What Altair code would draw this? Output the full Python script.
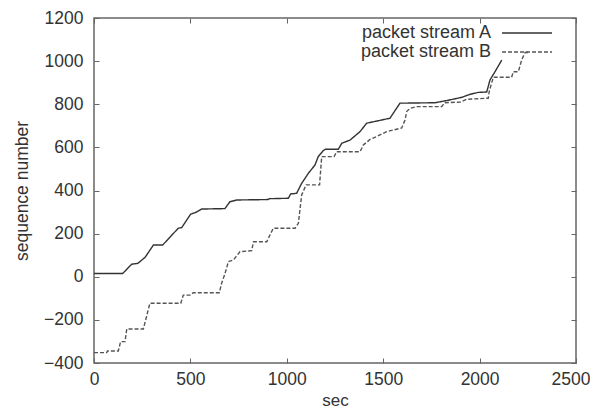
import altair as alt
import pandas as pd

series_names = ["packet stream A", "packet stream B"]

a_sec = [0, 149, 195, 227, 265, 308, 356, 437, 455, 501, 529, 558, 679, 705, 740, 903, 910,
         1008, 1020, 1051, 1077, 1112, 1146, 1163, 1189, 1200, 1267, 1285, 1328, 1380, 1414,
         1466, 1535, 1587, 1769, 1829, 1907, 1950, 1993, 2037, 2054, 2080, 2115]
a_seq = [15, 15, 58, 62, 90, 147, 147, 225, 228, 290, 299, 314, 316, 348, 356, 358, 362,
         364, 384, 387, 433, 480, 518, 557, 585, 591, 591, 619, 634, 673, 712,
         722, 735, 805, 807, 817, 832, 846, 855, 857, 913, 951, 1005]

b_sec = [0, 66, 70, 126, 138, 161, 170, 256, 277, 290, 450, 463, 498, 515, 650, 662, 680,
         697, 723, 757, 818, 827, 896, 913, 930, 1043, 1060, 1077, 1100, 1170, 1181, 1245,
         1259, 1380, 1397, 1432, 1466, 1518, 1587, 1596, 1613, 1622, 1639, 1674, 1803, 1820,
         1900, 1933, 2045, 2050, 2071, 2166, 2175, 2201, 2218, 2236, 2260]
b_seq = [-352, -352, -344, -344, -301, -301, -242, -242, -169, -123, -123, -85, -85, -74, -74, -30, 16,
         70, 78, 116, 121, 162, 162, 194, 225, 225, 248, 379, 426, 426, 557, 557,
         580, 580, 611, 637, 650, 673, 688, 690, 727, 766, 781, 789, 789, 807,
         810, 823, 828, 860, 925, 925, 951, 951, 1005, 1040, 1040]

x_ticks = [0, 500, 1000, 1500, 2000, 2500]
y_ticks = [-400, -200, 0, 200, 400, 600, 800, 1000, 1200]

rows = []
for i, (s, v) in enumerate(zip(a_sec, a_seq)):
    rows.append({"series": series_names[0], "sec": s, "seq": v, "order": i})
for i, (s, v) in enumerate(zip(b_sec, b_seq)):
    rows.append({"series": series_names[1], "sec": s, "seq": v, "order": i})
df = pd.DataFrame(rows)

FONT = "Liberation Sans"
TXT = "#333333"
AX = "#666666"
FS = 17.5

x_scale = alt.Scale(domain=[0, 2500], nice=False, zero=False)
y_scale = alt.Scale(domain=[-400, 1200], nice=False, zero=False)

legend = alt.Legend(
    title=None, orient="none", legendX=424, legendY=6,
    symbolType="M-5,0H5", symbolSize=100, symbolStrokeWidth=1.5,
    labelAlign="right", labelOffset={"expr": "-45"}, labelFontSize=18, labelColor=TXT,
    labelFont=FONT, rowPadding=1, padding=0, labelLimit=300,
)

color_enc = alt.Color("series:N", scale=alt.Scale(domain=series_names, range=["#333333", "#555555"]), legend=legend)
dash_enc = alt.StrokeDash("series:N", scale=alt.Scale(domain=series_names, range=[[1, 0], [4, 2]]), legend=legend)

last_x = x_ticks[-1]
lines = alt.Chart(df).mark_line(strokeWidth=1.4).encode(
    x=alt.X("sec:Q", scale=x_scale, axis=alt.Axis(
        orient="bottom", values=x_ticks, title="sec", format="d", offset=-5, tickSize=5, domain=False,
        grid=False, labelPadding=7, labelFontSize=FS, titleFontSize=17, labelFont=FONT,
        titleFont=FONT, labelColor=TXT, titleColor=TXT, tickColor=AX, titleFontWeight="normal",
        titlePadding=5, labelFlush=False,
        labelAlign={"condition": {"test": f"datum.value == {last_x}", "value": "right"}, "value": "center"},
        labelOffset={"condition": {"test": f"datum.value == {last_x}", "value": 14}, "value": 0})),
    y=alt.Y("seq:Q", scale=y_scale, axis=alt.Axis(
        orient="left", values=y_ticks, title="sequence number", format="d", offset=-5, tickSize=5,
        domain=False, grid=False, labelPadding=11, labelFontSize=FS, titleFontSize=FS,
        labelFont=FONT, titleFont=FONT, labelColor=TXT, titleColor=TXT, tickColor=AX,
        titleFontWeight="normal", titlePadding=12, labelFlush=False)),
    color=color_enc,
    strokeDash=dash_enc,
    order="order:Q",
)

mirror = alt.Chart(df).mark_line(strokeOpacity=0).encode(
    x=alt.X("sec:Q", scale=x_scale, axis=alt.Axis(
        orient="top", values=x_ticks, title=None, labels=False, offset=-5, tickSize=5,
        domain=False, grid=False, tickColor=AX)),
    y=alt.Y("seq:Q", scale=y_scale, axis=alt.Axis(
        orient="right", values=y_ticks, title=None, labels=False, offset=-5, tickSize=5,
        domain=False, grid=False, tickColor=AX)),
    detail="series:N",
    order="order:Q",
)

chart = alt.layer(lines, mirror).resolve_axis(x="independent", y="independent").properties(
    width=482, height=345,
    autosize=alt.AutoSizeParams(type="none"),
    padding={"left": 86, "top": 10, "right": 14, "bottom": 47},
).configure_view(stroke=AX, strokeWidth=1.5)

chart.save("out.html", embed_options={"renderer": "svg", "actions": False})
